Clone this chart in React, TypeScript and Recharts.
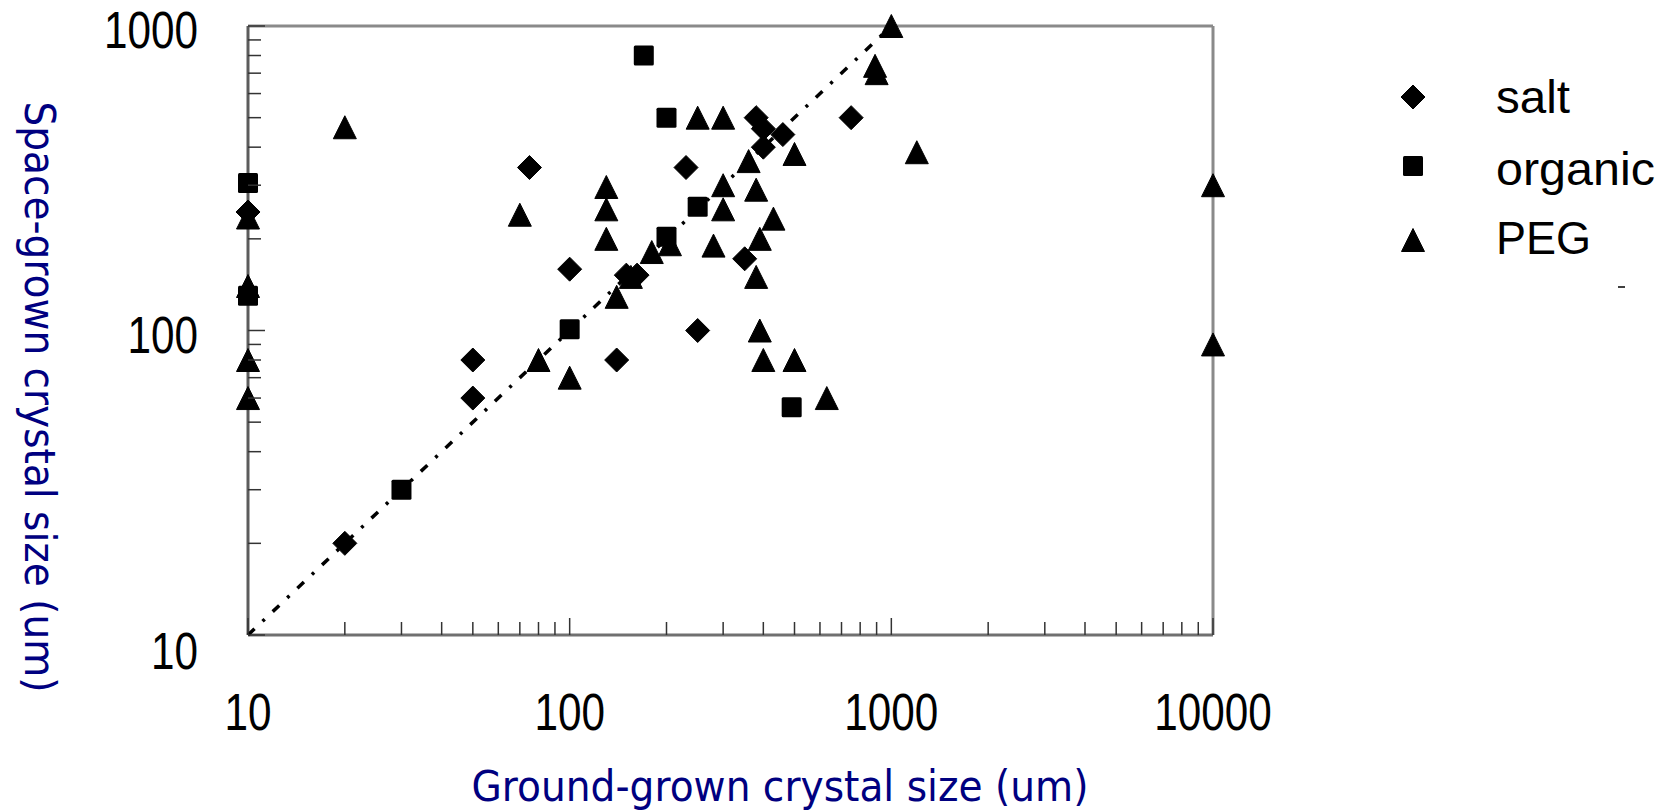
import { ScatterChart, Scatter, XAxis, YAxis, ReferenceLine } from 'recharts';

// ground-grown size (x) vs space-grown size (y), um
const saltGround = [10, 20, 50, 50, 75, 100, 140, 150, 162, 230, 250, 350, 380, 400, 400, 460, 750];
const saltSpace = [245, 20, 80, 60, 343, 159, 80, 152, 152, 343, 100, 172, 500, 460, 400, 440, 500];

const organicGround = [10, 10, 30, 100, 170, 200, 200, 250, 490];
const organicSpace = [305, 130, 30, 101, 800, 500, 203, 255, 56];

const pegGround = [
  10, 10, 10, 10, 20, 70, 80, 100, 130, 130, 130, 140, 155, 180, 205, 250, 280, 300, 300, 300,
  360, 380, 380, 390, 390, 400, 430, 500, 500, 630, 890, 900, 1000, 1200, 10000, 10000,
];
const pegSpace = [
  235, 140, 80, 60, 465, 240, 80, 70, 296, 250, 200, 129, 150, 181, 192, 500, 190, 500, 300, 250,
  360, 290, 150, 200, 100, 80, 233, 380, 80, 60, 740, 700, 1000, 385, 300, 90,
];

// equal-size reference line
const refGround = [10, 1000];
const refSpace = [10, 1000];

const xTicks = [10, 20, 30, 40, 50, 60, 70, 80, 90, 100, 200, 300, 400, 500, 600, 700, 800, 900, 1000, 2000, 3000, 4000, 5000, 6000, 7000, 8000, 9000, 10000];
const yTicks = [10, 20, 30, 40, 50, 60, 70, 80, 90, 100, 200, 300, 400, 500, 600, 700, 800, 900, 1000];
const majorTicks = [10, 100, 1000, 10000];

const zip = (xs: number[], ys: number[]) => xs.map((x, i) => ({ x, y: ys[i] }));
const saltData = zip(saltGround, saltSpace);
const organicData = zip(organicGround, organicSpace);
const pegData = zip(pegGround, pegSpace);
const refData = zip(refGround, refSpace);

const LABEL_FONT = '"Liberation Sans", Arial, sans-serif';
const TITLE_FONT = '"DejaVu Sans", Tahoma, sans-serif';
const DIGIT_W = 23.5;

function Diamond({ cx, cy }: any) {
  const r = 12;
  return (
    <polygon
      points={`${cx},${cy - r} ${cx + r},${cy} ${cx},${cy + r} ${cx - r},${cy}`}
      fill="#000"
      stroke="#000"
      strokeWidth={1}
      strokeLinejoin="round"
    />
  );
}

function Square({ cx, cy }: any) {
  return <rect x={cx - 10} y={cy - 10} width={20} height={20} rx={1.5} fill="#000" />;
}

function Triangle({ cx, cy }: any) {
  const h = 11.5;
  return (
    <polygon
      points={`${cx},${cy - h} ${cx + h},${cy + h} ${cx - h},${cy + h}`}
      fill="#000"
      stroke="#000"
      strokeWidth={1}
      strokeLinejoin="round"
    />
  );
}

const NoDot = () => <g />;

function XTick({ x, y, payload }: any) {
  const v = payload.value;
  const major = majorTicks.includes(v);
  const label = String(v);
  return (
    <g>
      <line x1={x} x2={x} y1={y} y2={y - (major ? 17 : 13)} stroke="#333" strokeWidth={1.5} />
      {major && (
        <text
          x={x}
          y={y + 95}
          textAnchor="middle"
          fontSize={52}
          fontFamily={LABEL_FONT}
          textLength={label.length * DIGIT_W}
          lengthAdjust="spacingAndGlyphs"
          fill="#000"
        >
          {label}
        </text>
      )}
    </g>
  );
}

function YTick({ x, y, payload }: any) {
  const v = payload.value;
  const major = majorTicks.includes(v);
  const label = String(v);
  // the bottom label sits a bit lower in the original
  const dy = v === 10 ? 34 : 22;
  return (
    <g>
      <line x1={x} x2={x + (major ? 17 : 13)} y1={y} y2={y} stroke="#333" strokeWidth={1.5} />
      {major && (
        <text
          x={x - 50}
          y={y + dy}
          textAnchor="end"
          fontSize={52}
          fontFamily={LABEL_FONT}
          textLength={label.length * DIGIT_W}
          lengthAdjust="spacingAndGlyphs"
          fill="#000"
        >
          {label}
        </text>
      )}
    </g>
  );
}

const legendItems = [
  { name: 'salt', Shape: Diamond, cy: 97, base: 113, len: 74 },
  { name: 'organic', Shape: Square, cy: 166, base: 185, len: 159 },
  { name: 'PEG', Shape: Triangle, cy: 240, base: 254, len: 95 },
];

export default function App() {
  return (
    <div style={{ position: 'absolute', left: 0, top: 0, width: 1670, height: 811, background: '#fff' }}>
      <ScatterChart width={1670} height={811} margin={{ top: 26, right: 457, bottom: 116, left: 188 }}>
        <XAxis
          type="number"
          dataKey="x"
          scale="log"
          domain={[10, 10000]}
          ticks={xTicks}
          interval={0}
          height={60}
          tickSize={0}
          tickMargin={0}
          tickLine={false}
          axisLine={{ stroke: '#707070', strokeWidth: 3 }}
          tick={<XTick />}
        />
        <YAxis
          type="number"
          dataKey="y"
          scale="log"
          domain={[10, 1000]}
          ticks={yTicks}
          interval={0}
          width={60}
          tickSize={0}
          tickMargin={0}
          tickLine={false}
          axisLine={{ stroke: '#5c5c5c', strokeWidth: 3 }}
          tick={<YTick />}
        />
        <ReferenceLine y={1000} stroke="#8a8a8a" strokeWidth={3} />
        <ReferenceLine x={10000} stroke="#8a8a8a" strokeWidth={3} />
        <Scatter
          data={refData}
          fill="#000"
          shape={<NoDot />}
          line={{ stroke: '#000', strokeWidth: 3.5, strokeDasharray: '9 11 3 11' }}
          legendType="none"
          isAnimationActive={false}
        />
        <Scatter name="salt" data={saltData} fill="#000" shape={<Diamond />} isAnimationActive={false} />
        <Scatter name="organic" data={organicData} fill="#000" shape={<Square />} isAnimationActive={false} />
        <Scatter name="PEG" data={pegData} fill="#000" shape={<Triangle />} isAnimationActive={false} />
      </ScatterChart>

      <svg
        width={1670}
        height={811}
        style={{ position: 'absolute', left: 0, top: 0, pointerEvents: 'none' }}
      >
        {/* axis titles */}
        <text
          transform="translate(25, 397) rotate(90)"
          textAnchor="middle"
          fontSize={42}
          fontFamily={TITLE_FONT}
          textLength={591}
          lengthAdjust="spacingAndGlyphs"
          fill="#000080"
        >
          Space-grown crystal size (um)
        </text>
        <text
          x={780}
          y={801}
          textAnchor="middle"
          fontSize={42}
          fontFamily={TITLE_FONT}
          textLength={617}
          lengthAdjust="spacingAndGlyphs"
          fill="#000080"
        >
          Ground-grown crystal size (um)
        </text>

        {/* legend */}
        {legendItems.map(({ name, Shape, cy, base, len }) => (
          <g key={name}>
            <Shape cx={1413} cy={cy} />
            <text
              x={1496}
              y={base}
              fontSize={47}
              fontFamily={LABEL_FONT}
              textLength={len}
              lengthAdjust="spacingAndGlyphs"
              fill="#000"
            >
              {name}
            </text>
          </g>
        ))}
        <line x1={1618} x2={1625} y1={287} y2={287} stroke="#000" strokeWidth={1.5} />
      </svg>
    </div>
  );
}
